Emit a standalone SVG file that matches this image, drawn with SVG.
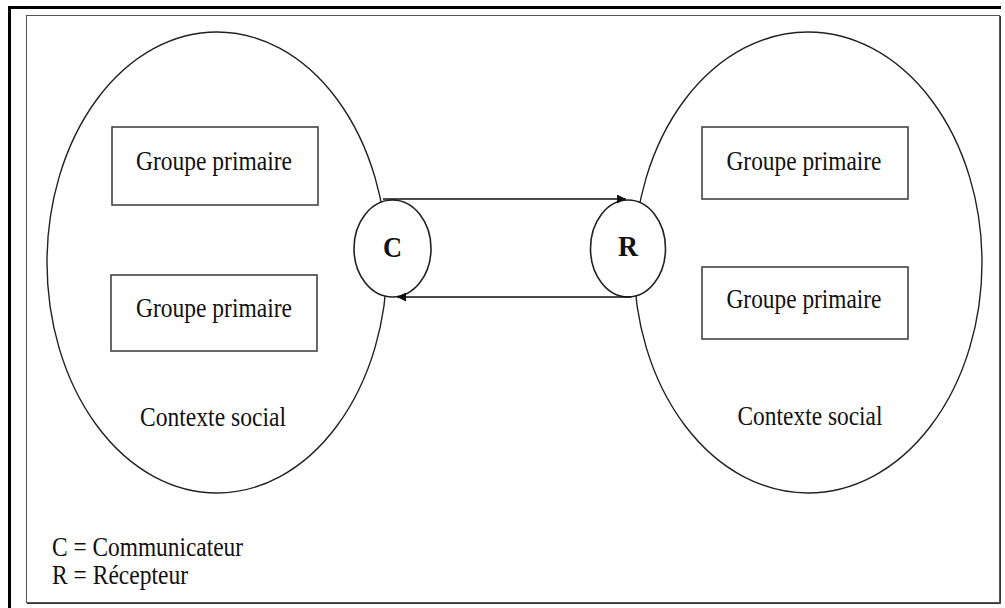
<svg xmlns="http://www.w3.org/2000/svg" width="1005" height="608" viewBox="0 0 1005 608">
<defs>
<style>
.t{font-family:"Liberation Serif","Times New Roman",serif;font-size:28px;fill:#111;}
.b{font-weight:bold;font-size:30px;}
.big{fill:none;stroke:#222;stroke-width:1.4;}
.small{fill:#fff;stroke:#222;stroke-width:1.6;}
.box{fill:#fff;stroke:#444;stroke-width:1.6;}
.conn{stroke:#111;stroke-width:1.6;fill:none;}
</style>
<marker id="ah" viewBox="0 0 10 10" refX="10" refY="5" markerWidth="10" markerHeight="9" markerUnits="userSpaceOnUse" orient="auto">
<path d="M0,0 L10,5 L0,10 z" fill="#111"/>
</marker>
</defs>
<rect x="0" y="0" width="1005" height="608" fill="#fff"/>
<g id="frame">
<rect x="8" y="6" width="993" height="3" fill="#000"/>
<rect x="8" y="6" width="3" height="602" fill="#000"/>
<rect x="26.5" y="15.5" width="973" height="587" fill="none" stroke="#555" stroke-width="1"/>
<polyline points="1000.5,16 1000.5,603.5 27,603.5" fill="none" stroke="#333" stroke-width="1"/>
</g>
<g id="context-left">
<ellipse class="big" cx="217" cy="262.5" rx="170" ry="230.5"/>
<text class="t" x="213" y="426" text-anchor="middle" textLength="146" lengthAdjust="spacingAndGlyphs">Contexte social</text>
</g>
<g id="context-right">
<ellipse class="big" cx="808" cy="262.5" rx="174" ry="230.5"/>
<text class="t" x="810" y="425" text-anchor="middle" textLength="145" lengthAdjust="spacingAndGlyphs">Contexte social</text>
</g>
<g id="groupe-left-1">
<rect class="box" x="112" y="127" width="206" height="78"/>
<text class="t" x="214" y="170" text-anchor="middle" textLength="156" lengthAdjust="spacingAndGlyphs">Groupe primaire</text>
</g>
<g id="groupe-left-2">
<rect class="box" x="111" y="275" width="206" height="76"/>
<text class="t" x="214" y="317" text-anchor="middle" textLength="156" lengthAdjust="spacingAndGlyphs">Groupe primaire</text>
</g>
<g id="groupe-right-1">
<rect class="box" x="702" y="127" width="206" height="72"/>
<text class="t" x="804" y="170" text-anchor="middle" textLength="155" lengthAdjust="spacingAndGlyphs">Groupe primaire</text>
</g>
<g id="groupe-right-2">
<rect class="box" x="702" y="267" width="206" height="72"/>
<text class="t" x="804" y="308" text-anchor="middle" textLength="155" lengthAdjust="spacingAndGlyphs">Groupe primaire</text>
</g>
<g id="node-C">
<ellipse class="small" cx="392.5" cy="248.5" rx="38.5" ry="48.5"/>
<text class="t b" x="392.5" y="257" text-anchor="middle" textLength="19" lengthAdjust="spacingAndGlyphs">C</text>
</g>
<g id="node-R">
<ellipse class="small" cx="628" cy="248.5" rx="37.5" ry="48.5"/>
<text class="t b" x="628" y="256" text-anchor="middle" textLength="20" lengthAdjust="spacingAndGlyphs">R</text>
</g>
<g id="connectors">
<line class="conn" x1="383" y1="199" x2="626" y2="199" marker-end="url(#ah)"/>
<line class="conn" x1="631" y1="297" x2="397" y2="297" marker-end="url(#ah)"/>
</g>
<g id="legend">
<text class="t" x="52" y="556" textLength="191" lengthAdjust="spacingAndGlyphs">C = Communicateur</text>
<text class="t" x="52" y="584" textLength="136" lengthAdjust="spacingAndGlyphs">R = Récepteur</text>
</g>
</svg>
